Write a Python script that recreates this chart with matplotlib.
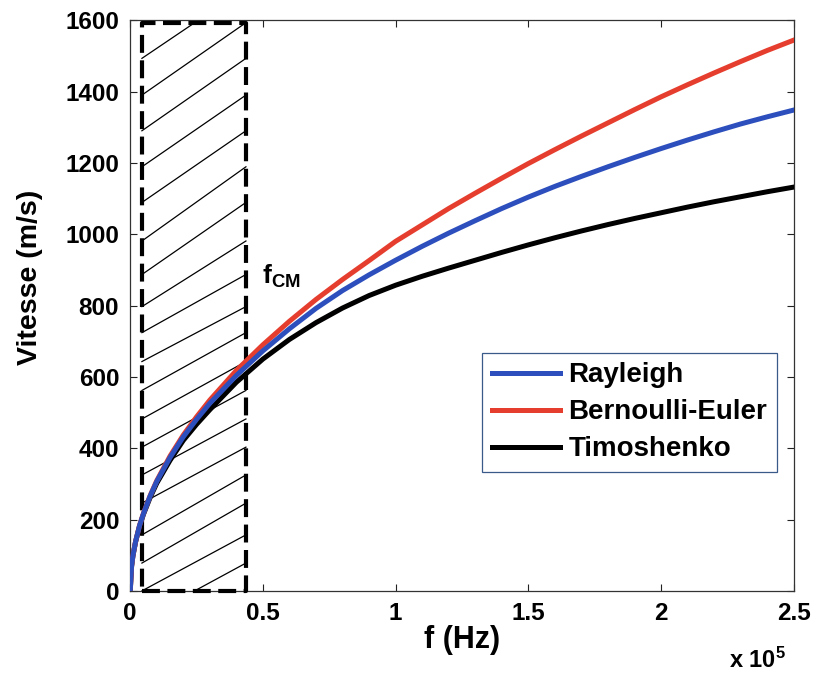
import numpy as np
import matplotlib
matplotlib.use("Agg")
import matplotlib.pyplot as plt
from matplotlib.lines import Line2D

plt.rcParams['font.family'] = ['Liberation Sans', 'DejaVu Sans']
plt.rcParams['font.weight'] = 'bold'
plt.rcParams['mathtext.fontset'] = 'custom'
plt.rcParams['mathtext.rm'] = 'Liberation Sans:bold'
plt.rcParams['mathtext.it'] = 'Liberation Sans:bold'
plt.rcParams['mathtext.bf'] = 'Liberation Sans:bold'

# ---- data (frequency in Hz, velocity in m/s) ----
freq = np.array([0, 0.005, 0.01, 0.02, 0.035, 0.05, 0.075, 0.1, 0.15, 0.2, 0.25, 0.3,
                 0.4, 0.5, 0.6, 0.7, 0.8, 0.9, 1.0, 1.1, 1.2, 1.3, 1.4, 1.5, 1.6, 1.7,
                 1.8, 1.9, 2.0, 2.1, 2.2, 2.3, 2.4, 2.5]) * 1e5
v_bernoulli = np.array([0, 69, 98, 138, 183, 218, 267, 309, 378, 437, 488, 535,
                        618, 690, 756, 817, 873, 926, 980, 1026, 1072, 1115, 1157, 1198, 1237, 1275,
                        1312, 1349, 1385, 1419, 1452, 1484, 1515, 1544])
v_rayleigh = np.array([0, 69, 98, 138, 183, 217, 266, 307, 374, 432, 481, 526,
                       604, 673, 735, 792, 842, 886, 927, 966, 1003, 1038, 1072, 1104, 1134, 1162,
                       1189, 1215, 1240, 1264, 1287, 1309, 1329, 1348])
v_timoshenko = np.array([0, 69, 98, 137, 181, 215, 262, 302, 366, 422, 467, 508,
                         585, 650, 705, 752, 793, 828, 857, 882, 905, 927, 949, 970, 990, 1009,
                         1027, 1044, 1060, 1076, 1091, 1105, 1119, 1132])

series_names = ["Rayleigh", "Bernoulli-Euler", "Timoshenko"]

# shaded (hatched) region: f < f_CM
rect_f = [4400, 43600]
rect_v = [0, 1592]
hatch_levels = [-160, -80, 0, 78, 157, 246, 325, 403, 482, 562, 643, 724, 797, 887,
                981, 1089, 1189, 1290, 1390, 1493, 1593, 1690, 1790]

x_ticks = [0, 0.5e5, 1e5, 1.5e5, 2e5, 2.5e5]
y_ticks = [0, 200, 400, 600, 800, 1000, 1200, 1400, 1600]

c_blue = '#2d4fbd'
c_red = '#e63e2e'
c_black = '#000000'

fig = plt.figure(figsize=(8.14, 6.73), dpi=100)
ax = fig.add_axes([0.160, 0.122, 0.815, 0.848])

# hatch lines, clipped to rectangle
x0, x1 = rect_f
for i in range(len(hatch_levels) - 2):
    a, b = hatch_levels[i], hatch_levels[i + 2]
    ta = (rect_v[0] - a) / (b - a)
    tb = (rect_v[1] - a) / (b - a)
    lo, hi = max(0.0, min(ta, tb)), min(1.0, max(ta, tb))
    if hi <= lo:
        continue
    xs = [x0 + lo * (x1 - x0), x0 + hi * (x1 - x0)]
    ys = [a + lo * (b - a), a + hi * (b - a)]
    ax.plot(xs, ys, color='black', lw=0.9, zorder=2)

# dashed rectangle
ax.plot([x0, x1, x1, x0, x0], [rect_v[0], rect_v[0], rect_v[1], rect_v[1], rect_v[0]],
        color='black', lw=3.0, linestyle=(0, (4.3, 1.8)), zorder=3,
        dash_capstyle='butt', clip_on=False)

# curves
ax.plot(freq, v_timoshenko, color=c_black, lw=3.6, zorder=4)
ax.plot(freq, v_bernoulli, color=c_red, lw=3.6, zorder=5)
ax.plot(freq, v_rayleigh, color=c_blue, lw=3.6, zorder=6)

ax.set_xlim(0, 2.5e5)
ax.set_ylim(0, 1600)
ax.set_xticks(x_ticks)
ax.set_xticklabels(['%g' % (t / 1e5) for t in x_ticks])
ax.set_yticks(y_ticks)
ax.set_yticklabels([str(t) for t in y_ticks])
ax.tick_params(direction='in', length=5, width=0.8, top=True, right=True,
               labelsize=17.5, colors='#222222', pad=8)
for lab in ax.get_xticklabels() + ax.get_yticklabels():
    lab.set_fontweight('bold')
    lab.set_color('black')
for sp in ax.spines.values():
    sp.set_linewidth(0.9)
    sp.set_color('#333333')

ax.set_xlabel('f (Hz)', fontsize=22, fontweight='bold', labelpad=0)
ax.set_ylabel('Vitesse (m/s)', fontsize=20.5, fontweight='bold')
ax.yaxis.set_label_coords(-0.131, 0.55)

ax.text(0.902, -0.135, r'x 10$^{5}$', transform=ax.transAxes, fontsize=17,
        fontweight='bold', ha='left', va='baseline')
ax.text(0.198, 0.538, r'f$_{\mathregular{CM}}$', transform=ax.transAxes, fontsize=19,
        fontweight='bold', ha='left', va='baseline')

handles = [Line2D([], [], color=c_blue, lw=3.6),
           Line2D([], [], color=c_red, lw=3.6),
           Line2D([], [], color=c_black, lw=3.6)]
leg = ax.legend(handles, series_names, loc='lower right', bbox_to_anchor=(0.975, 0.208),
                borderaxespad=0, fancybox=False, framealpha=1, edgecolor='#3a5a8a',
                prop={'size': 20, 'weight': 'bold'}, handlelength=2.45, handletextpad=0.3,
                labelspacing=0.4, borderpad=0.35)
leg.get_frame().set_linewidth(0.9)

fig.savefig('out.png', dpi=100)
